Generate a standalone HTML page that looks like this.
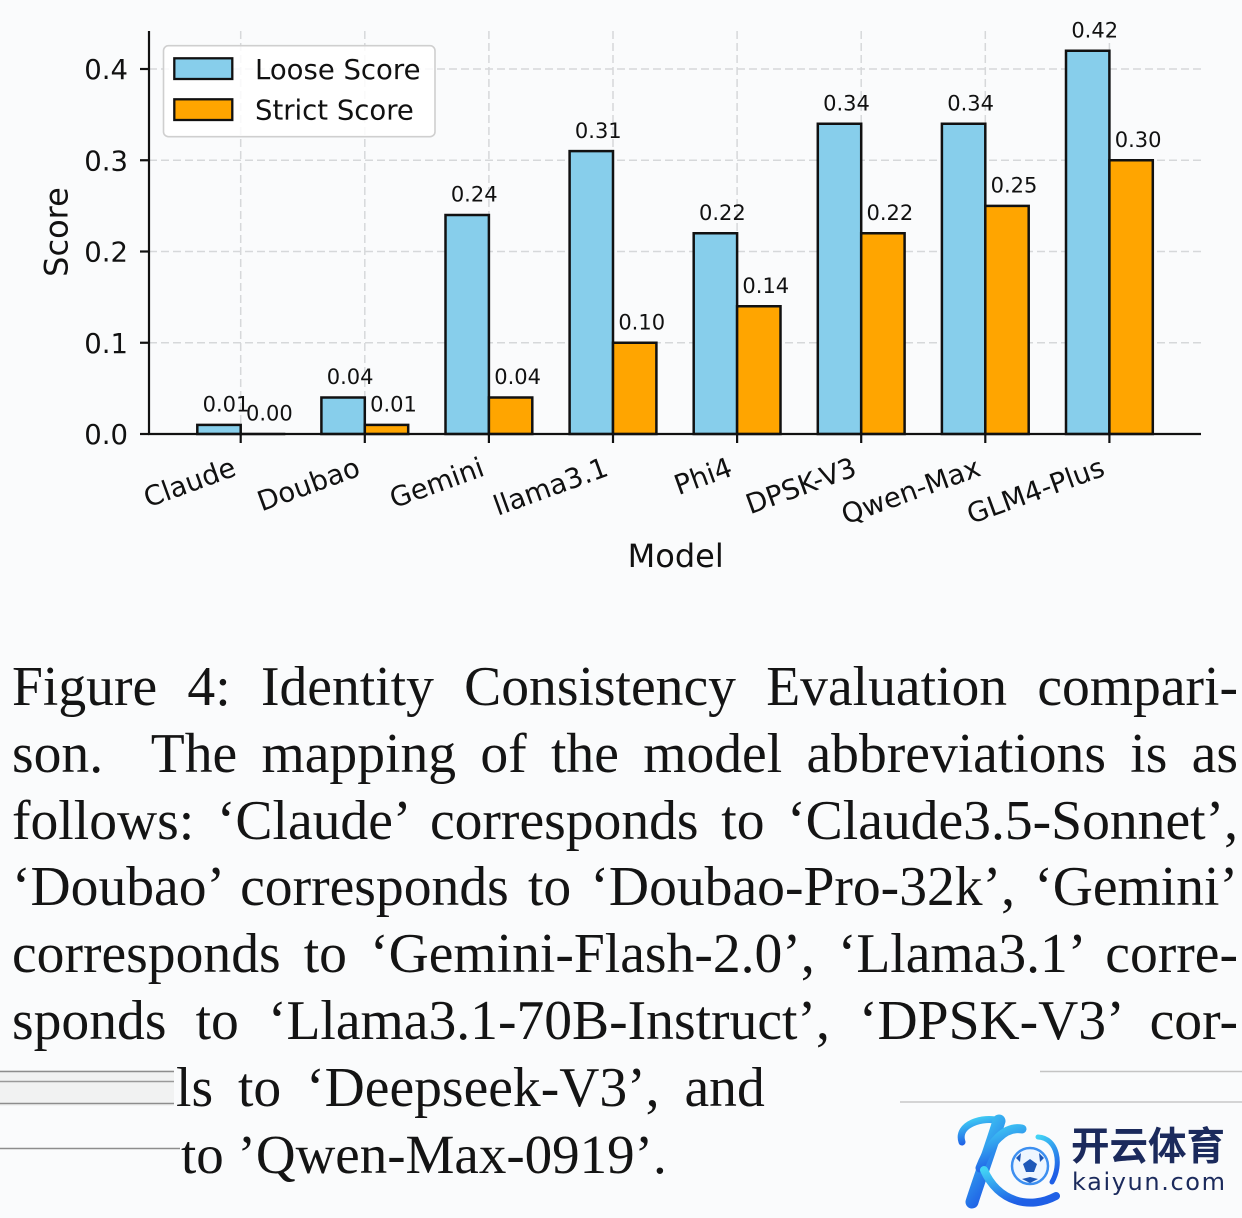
<!DOCTYPE html>
<html>
<head>
<meta charset="utf-8">
<style>
  html,body{margin:0;padding:0;}
  body{width:1242px;height:1218px;background:#fafbfc;overflow:hidden;position:relative;}
  svg{position:absolute;left:0;top:0;}
  .cap{position:absolute;left:12px;top:654px;width:1226px;font-family:"Liberation Serif","Times New Roman",serif;font-size:55.6px;line-height:66.8px;color:#141414;}
  .cap div{height:66.8px;text-align:justify;text-align-last:justify;}
  .cap div.l7{text-align:left;text-align-last:left;padding-left:164px;word-spacing:11px;}
  .cap div.l8{text-align:left;text-align-last:left;padding-left:169px;font-size:55px;}
</style>
</head>
<body>
<svg width="1242" height="1218" viewBox="0 0 1242 1218" xmlns="http://www.w3.org/2000/svg">
  <defs>
    <linearGradient id="kg" x1="0" y1="0" x2="0.4" y2="1">
      <stop offset="0" stop-color="#42d3f5"/>
      <stop offset="1" stop-color="#1f5fe6"/>
    </linearGradient>
  </defs>

  <!-- grid -->
  <g stroke="#d6d8da" stroke-width="1.5" stroke-dasharray="8 4" fill="none">
    <line x1="149" y1="342.75" x2="1201" y2="342.75"/>
    <line x1="149" y1="251.5" x2="1201" y2="251.5"/>
    <line x1="149" y1="160.25" x2="1201" y2="160.25"/>
    <line x1="149" y1="69" x2="1201" y2="69"/>
    <line x1="240.7" y1="31" x2="240.7" y2="434"/>
    <line x1="364.8" y1="31" x2="364.8" y2="434"/>
    <line x1="488.9" y1="31" x2="488.9" y2="434"/>
    <line x1="613" y1="31" x2="613" y2="434"/>
    <line x1="737.1" y1="31" x2="737.1" y2="434"/>
    <line x1="861.2" y1="31" x2="861.2" y2="434"/>
    <line x1="985.3" y1="31" x2="985.3" y2="434"/>
    <line x1="1109.4" y1="31" x2="1109.4" y2="434"/>
  </g>

  <!-- bars -->
  <g stroke="#111" stroke-width="2.5">
    <rect x="197.3" y="424.9" width="43.4" height="9.1" fill="#87ceeb"/>
    <rect x="240.7" y="434" width="43.4" height="0.01" fill="#ffa500"/>
    <rect x="321.4" y="397.5" width="43.4" height="36.5" fill="#87ceeb"/>
    <rect x="364.8" y="424.9" width="43.4" height="9.1" fill="#ffa500"/>
    <rect x="445.5" y="215" width="43.4" height="219" fill="#87ceeb"/>
    <rect x="488.9" y="397.5" width="43.4" height="36.5" fill="#ffa500"/>
    <rect x="569.6" y="151.1" width="43.4" height="282.9" fill="#87ceeb"/>
    <rect x="613" y="342.75" width="43.4" height="91.25" fill="#ffa500"/>
    <rect x="693.7" y="233.25" width="43.4" height="200.75" fill="#87ceeb"/>
    <rect x="737.1" y="306.25" width="43.4" height="127.75" fill="#ffa500"/>
    <rect x="817.8" y="123.75" width="43.4" height="310.25" fill="#87ceeb"/>
    <rect x="861.2" y="233.25" width="43.4" height="200.75" fill="#ffa500"/>
    <rect x="941.9" y="123.75" width="43.4" height="310.25" fill="#87ceeb"/>
    <rect x="985.3" y="205.9" width="43.4" height="228.1" fill="#ffa500"/>
    <rect x="1066" y="50.75" width="43.4" height="383.25" fill="#87ceeb"/>
    <rect x="1109.4" y="160.25" width="43.4" height="273.75" fill="#ffa500"/>
  </g>

  <!-- value labels -->
  <g font-family="DejaVu Sans, Liberation Sans, sans-serif" font-size="21" fill="#111" text-anchor="middle">
    <text x="226" y="411.6">0.01</text>
    <text x="269.4" y="420.7">0.00</text>
    <text x="350.1" y="384.2">0.04</text>
    <text x="393.5" y="411.6">0.01</text>
    <text x="474.2" y="201.7">0.24</text>
    <text x="517.6" y="384.2">0.04</text>
    <text x="598.3" y="137.8">0.31</text>
    <text x="641.7" y="329.45">0.10</text>
    <text x="722.4" y="219.95">0.22</text>
    <text x="765.8" y="292.95">0.14</text>
    <text x="846.5" y="110.45">0.34</text>
    <text x="889.9" y="219.95">0.22</text>
    <text x="970.6" y="110.45">0.34</text>
    <text x="1014" y="192.6">0.25</text>
    <text x="1094.7" y="37.45">0.42</text>
    <text x="1138.1" y="146.95">0.30</text>
  </g>

  <!-- spines & ticks -->
  <g stroke="#111" stroke-width="2.2" fill="none">
    <line x1="149" y1="31" x2="149" y2="435"/>
    <line x1="148" y1="434" x2="1201" y2="434"/>
    <line x1="140" y1="434" x2="149" y2="434"/>
    <line x1="140" y1="342.75" x2="149" y2="342.75"/>
    <line x1="140" y1="251.5" x2="149" y2="251.5"/>
    <line x1="140" y1="160.25" x2="149" y2="160.25"/>
    <line x1="140" y1="69" x2="149" y2="69"/>
    <line x1="240.7" y1="434" x2="240.7" y2="443"/>
    <line x1="364.8" y1="434" x2="364.8" y2="443"/>
    <line x1="488.9" y1="434" x2="488.9" y2="443"/>
    <line x1="613" y1="434" x2="613" y2="443"/>
    <line x1="737.1" y1="434" x2="737.1" y2="443"/>
    <line x1="861.2" y1="434" x2="861.2" y2="443"/>
    <line x1="985.3" y1="434" x2="985.3" y2="443"/>
    <line x1="1109.4" y1="434" x2="1109.4" y2="443"/>
  </g>

  <!-- y tick labels -->
  <g font-family="DejaVu Sans, Liberation Sans, sans-serif" font-size="27.5" fill="#111" text-anchor="end">
    <text x="128" y="444">0.0</text>
    <text x="128" y="352.75">0.1</text>
    <text x="128" y="261.5">0.2</text>
    <text x="128" y="170.25">0.3</text>
    <text x="128" y="79">0.4</text>
  </g>

  <!-- x tick labels -->
  <g font-family="DejaVu Sans, Liberation Sans, sans-serif" font-size="27.5" fill="#111" text-anchor="end">
    <text transform="translate(237.7,475) rotate(-20)">Claude</text>
    <text transform="translate(361.8,475) rotate(-20)">Doubao</text>
    <text transform="translate(485.9,475) rotate(-20)">Gemini</text>
    <text transform="translate(610,475) rotate(-20)">llama3.1</text>
    <text transform="translate(734.1,475) rotate(-20)">Phi4</text>
    <text transform="translate(858.2,475) rotate(-20)">DPSK-V3</text>
    <text transform="translate(982.3,475) rotate(-20)">Qwen-Max</text>
    <text transform="translate(1106.4,475) rotate(-20)">GLM4-Plus</text>
  </g>

  <!-- axis labels -->
  <g font-family="DejaVu Sans, Liberation Sans, sans-serif" font-size="32" fill="#111" text-anchor="middle">
    <text x="675.7" y="567">Model</text>
    <text transform="translate(67.5,232) rotate(-90)">Score</text>
  </g>

  <!-- legend -->
  <rect x="163.5" y="45.7" width="271.5" height="91" rx="5" fill="#ffffff" fill-opacity="0.85" stroke="#cfcfcf" stroke-width="1.6"/>
  <rect x="174.3" y="58.3" width="58" height="20.7" fill="#87ceeb" stroke="#111" stroke-width="2.3"/>
  <rect x="174.3" y="99.3" width="58" height="20.7" fill="#ffa500" stroke="#111" stroke-width="2.3"/>
  <g font-family="DejaVu Sans, Liberation Sans, sans-serif" font-size="27.5" fill="#111">
    <text x="255" y="79">Loose Score</text>
    <text x="255" y="119.5">Strict Score</text>
  </g>

  <!-- scan artifacts -->
  <g stroke-width="1.6" fill="none">
    <rect x="0" y="1070" width="174" height="36" fill="#f1f2f2" stroke="none"/>
    <line x1="0" y1="1071.5" x2="174" y2="1071.5" stroke="#8d8d8d"/>
    <line x1="0" y1="1081.5" x2="174" y2="1081.5" stroke="#9a9a9a"/>
    <line x1="0" y1="1103.5" x2="174" y2="1103.5" stroke="#8d8d8d"/>
    <line x1="0" y1="1148.5" x2="180" y2="1148.5" stroke="#8d8d8d"/>
    <line x1="1040" y1="1071.5" x2="1242" y2="1071.5" stroke="#c4c4c4"/>
    <line x1="900" y1="1102" x2="1242" y2="1102" stroke="#c8c8c8"/>
  </g>

  <!-- logo -->
  <g fill="none" stroke="url(#kg)" stroke-linecap="round">
    <path d="M962 1142 C956 1124, 984 1116, 999 1121" stroke-width="7"/>
    <path d="M999 1121 C990 1150, 979 1180, 972 1202" stroke-width="13"/>
    <path d="M980 1168 C990 1142, 1005 1126, 1022 1129" stroke-width="9"/>
    <path d="M984 1170 C998 1202, 1030 1210, 1056 1196" stroke-width="8"/>
    <path d="M1038 1137 C1058 1138, 1062 1165, 1052 1182" stroke-width="5"/>
  </g>
  <circle cx="1030" cy="1166" r="18" fill="#eef6ff" stroke="#3d8ff0" stroke-width="2.5"/>
  <polygon points="1030,1159 1037,1164 1034,1172 1026,1172 1023,1164" fill="#1e58b8"/>
  <polygon points="1016,1158 1021,1153 1020,1162" fill="#1e58b8"/>
  <polygon points="1044,1158 1039,1153 1040,1162" fill="#1e58b8"/>
  <polygon points="1022,1179 1030,1183 1038,1179 1030,1177" fill="#1e58b8"/>
  <text x="1071" y="1160" font-family="Noto Sans CJK SC, WenQuanYi Zen Hei, sans-serif" font-weight="bold" font-size="39" fill="#1b2a5c" textLength="154" lengthAdjust="spacingAndGlyphs">开云体育</text>
  <text x="1072" y="1190" font-family="DejaVu Sans, Liberation Sans, sans-serif" font-size="24" fill="#1b2a5c" textLength="153" lengthAdjust="spacing">kaiyun.com</text>
</svg>

<div class="cap">
  <div>Figure 4: Identity Consistency Evaluation compari-</div>
  <div>son.&nbsp; The mapping of the model abbreviations is as</div>
  <div>follows: ‘Claude’ corresponds to ‘Claude3.5-Sonnet’,</div>
  <div>‘Doubao’ corresponds to ‘Doubao-Pro-32k’, ‘Gemini’</div>
  <div>corresponds to ‘Gemini-Flash-2.0’, ‘Llama3.1’ corre-</div>
  <div>sponds to ‘Llama3.1-70B-Instruct’, ‘DPSK-V3’ cor-</div>
  <div class="l7">ls to ‘Deepseek-V3’, and</div>
  <div class="l8">to ’Qwen-Max-0919’.</div>
</div>
</body>
</html>
